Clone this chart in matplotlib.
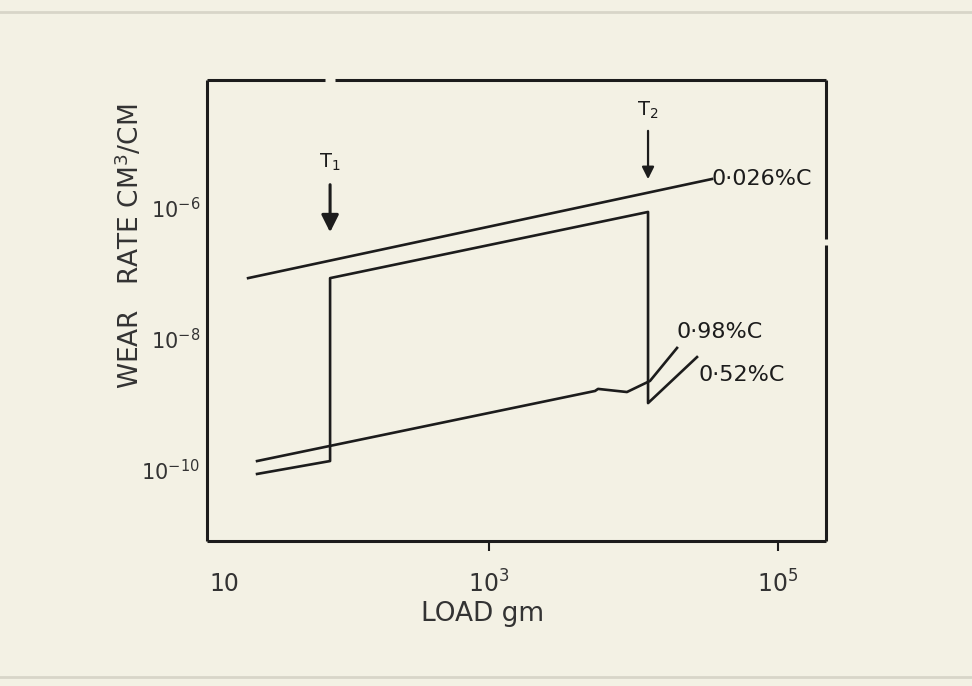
import numpy as np
import matplotlib

matplotlib.use('Agg')
import matplotlib.pyplot as plt

# wear rate vs load
load_026 = [21.5, 3.49e4]
wear_026 = [8.5e-8, 2.77e-6]

load_052 = [24.8, 79.4, 79.4, 1.26e4, 1.26e4, 2.75e4]
wear_052 = [8.7e-11, 1.37e-10, 8.5e-8, 8.7e-7, 1.05e-9, 5.3e-9]

load_098 = [24.8, 5.42e3, 5.68e3, 9.0e3, 1.30e4, 2.0e4]
wear_098 = [1.37e-10, 1.61e-9, 1.73e-9, 1.55e-9, 2.29e-9, 7.3e-9]

t1_load = 79.4
t2_load = 1.26e4

xticks = [1e3, 1e5]
xticklabels = ['$10^{3}$', '$10^{5}$']
yticks = [1e-6, 1e-8, 1e-10]
yticklabels = ['$10^{-6}$', '$10^{-8}$', '$10^{-10}$']

plt.rcParams['font.family'] = ['DejaVu Sans']
plt.rcParams['mathtext.fontset'] = 'dejavusans'

ink = '#1c1c1c'
grey = '#333333'
paper = '#f3f1e4'

fig = plt.figure(figsize=(9.72, 6.86), dpi=100, facecolor=paper)
ax = fig.add_axes([207 / 972., 1 - 541 / 686., 619 / 972., 461 / 686.])
ax.set_facecolor(paper)
ax.set_xscale('log')
ax.set_yscale('log')
ax.set_xlim(10 ** 1.048, 10 ** 5.332)
ax.set_ylim(10 ** -11.084, 10 ** -4.046)
ax.minorticks_off()

lw = 1.9
ax.plot(load_026, wear_026, color=ink, lw=lw)
ax.plot(load_052, wear_052, color=ink, lw=lw)
ax.plot(load_098, wear_098, color=ink, lw=lw)

# hand drawn frame with its small breaks
for s in ax.spines.values():
  s.set_visible(False)
fl = dict(color=ink, lw=2.2, transform=ax.transAxes, clip_on=False, solid_capstyle='butt')
ax.plot([0, 0], [0, 1], **fl)
ax.plot([0, 1], [0, 0], **fl)
ax.plot([0, 0.191], [1, 1], **fl)
ax.plot([0.206, 1], [1, 1], **fl)
ax.plot([1, 1], [0, 0.642], **fl)
ax.plot([1, 1], [0.656, 1], **fl)

ax.set_xticks(xticks)
ax.set_xticklabels(xticklabels)
ax.set_yticks(yticks)
ax.set_yticklabels(yticklabels)
ax.tick_params(axis='x', direction='out', length=7, width=1.5, color=ink,
               labelsize=17, labelcolor=grey, pad=14)
ax.tick_params(axis='y', length=0, labelsize=15, labelcolor=grey, pad=5)
ax.annotate('10', xy=(0, 0), xycoords='axes fraction', xytext=(2, -22),
            textcoords='offset points', ha='left', va='top', fontsize=17,
            color=grey)

ax.set_xlabel('LOAD gm', fontsize=19, color=grey)
ax.xaxis.set_label_coords(0.445, -0.13)
ax.set_ylabel('WEAR   RATE CM$^3$/CM', fontsize=19, color=grey)
ax.yaxis.set_label_coords(-0.1, 0.64)

# transition arrows
ax.annotate('', xy=(t1_load, 3.87e-7), xytext=(t1_load, 2.5e-6),
            arrowprops=dict(arrowstyle='-|>', color=ink, lw=2.2, mutation_scale=26))
ax.text(t1_load, 4.9e-6, 'T$_1$', ha='center', va='center', fontsize=14, color=ink)
ax.annotate('', xy=(t2_load, 2.5e-6), xytext=(t2_load, 1.66e-5),
            arrowprops=dict(arrowstyle='-|>', color=ink, lw=1.6, mutation_scale=18))
ax.text(t2_load, 3.1e-5, 'T$_2$', ha='center', va='center', fontsize=14, color=ink)

ax.text(load_026[-1], wear_026[-1], '0·026%C', ha='left', va='center', fontsize=16, color=ink)
ax.text(1.97e4, 1.27e-8, '0·98%C', ha='left', va='center', fontsize=16, color=ink)
ax.text(2.8e4, 2.8e-9, '0·52%C', ha='left', va='center', fontsize=16, color=ink)

# photo border
fig.add_artist(plt.Line2D([0, 1], [1 - 12 / 686., 1 - 12 / 686.], color='#d8d5c8', lw=2,
                          transform=fig.transFigure))
fig.add_artist(plt.Line2D([0, 1], [1 - 677 / 686., 1 - 677 / 686.], color='#d8d5c8', lw=2,
                          transform=fig.transFigure))

plt.savefig('out.png', dpi=100, facecolor=paper)
